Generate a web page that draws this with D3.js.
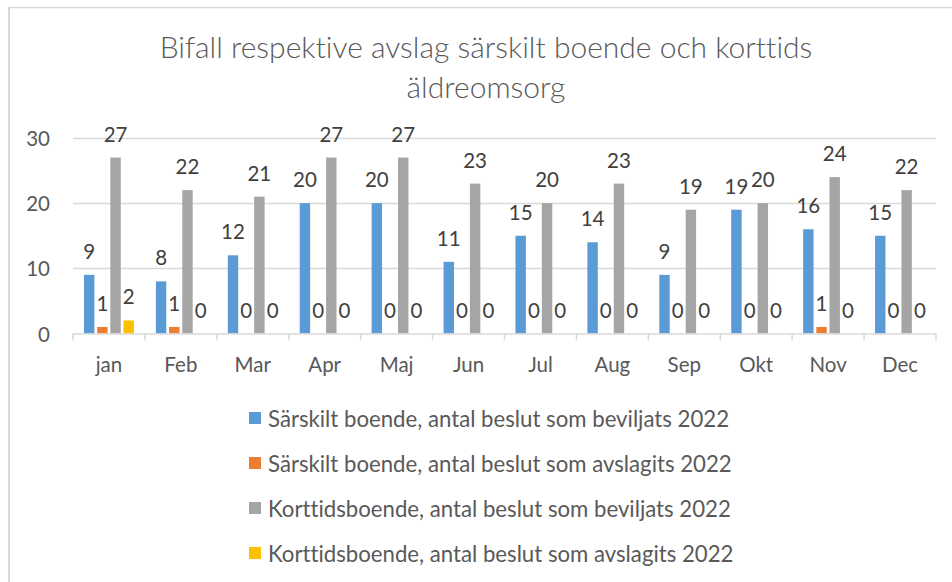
<!DOCTYPE html>
<html>
<head>
<meta charset="utf-8">
<script src="https://cdn.jsdelivr.net/npm/d3@7"></script>
<style>
  body { margin: 0; background: #fff; }
  text { font-family: Lato, "Open Sans", sans-serif; fill: #595959; font-variant-ligatures: none; }
</style>
</head>
<body>
<svg id="chart" width="952" height="582"></svg>
<script>
let months = ["jan", "Feb", "Mar", "Apr", "Maj", "Jun", "Jul", "Aug", "Sep", "Okt", "Nov", "Dec"];
let seriesNames = [
    "Särskilt boende, antal beslut som beviljats 2022",
    "Särskilt boende, antal beslut som avslagits 2022",
    "Korttidsboende, antal beslut som beviljats 2022",
    "Korttidsboende, antal beslut som avslagits 2022"
];
let sbBeviljats = [9, 8, 12, 20, 20, 11, 15, 14, 9, 19, 16, 15];
let sbAvslagits = [1, 1, 0, 0, 0, 0, 0, 0, 0, 0, 1, 0];
let ktBeviljats = [27, 22, 21, 27, 27, 23, 20, 23, 19, 20, 24, 22];
let ktAvslagits = [2, 0, 0, 0, 0, 0, 0, 0, 0, 0, 0, 0];
let yTicks = [0, 10, 20, 30];
let titleLines = ["Bifall respektive avslag särskilt boende och korttids", "äldreomsorg"];

let colors = ["#5b9bd5", "#ed7d31", "#a5a5a5", "#ffc000"];
let allSeries = [sbBeviljats, sbAvslagits, ktBeviljats, ktAvslagits];

let svg = d3.select("#chart");

// chart frame (only top and left edges are visible in the crop)
svg.append("line").attr("x1", 9).attr("x2", 952).attr("y1", 7.5).attr("y2", 7.5)
    .attr("stroke", "#d9d9d9").attr("stroke-width", 1.5);
svg.append("line").attr("x1", 9).attr("x2", 9).attr("y1", 7).attr("y2", 582)
    .attr("stroke", "#d9d9d9").attr("stroke-width", 2);

let plotLeft = 73, plotRight = 936, plotTop = 138, plotBottom = 333.5;

let x = d3.scaleBand().domain(months).range([plotLeft, plotRight])
    .paddingInner(0.305).paddingOuter(0.1525);
let xs = d3.scaleBand().domain(d3.range(allSeries.length)).range([0, x.bandwidth()])
    .paddingInner(0.21);
let y = d3.scaleLinear().domain([0, 30]).range([plotBottom, plotTop]);

// title
svg.append("g").selectAll("text").data(titleLines).join("text")
    .attr("x", 486)
    .attr("y", (d, i) => 58 + i * 40)
    .attr("text-anchor", "middle")
    .style("font-size", "30px")
    .style("font-weight", 300)
    .text(d => d);

// gridlines
svg.append("g").selectAll("line").data(yTicks.filter(t => t > 0)).join("line")
    .attr("x1", plotLeft).attr("x2", plotRight)
    .attr("y1", d => Math.round(y(d)) + 0.5).attr("y2", d => Math.round(y(d)) + 0.5)
    .attr("stroke", "#d9d9d9").attr("stroke-width", 1.5);

// y tick labels
svg.append("g").selectAll("text").data(yTicks).join("text")
    .attr("x", 50)
    .attr("y", d => y(d))
    .attr("text-anchor", "end")
    .attr("dominant-baseline", "central")
    .style("font-size", "20.5px")
    .text(d => d);

// bars
for (let s = 0; s < allSeries.length; s++) {
    svg.append("g").selectAll("rect").data(allSeries[s]).join("rect")
        .attr("x", (d, i) => x(months[i]) + xs(s))
        .attr("width", xs.bandwidth())
        .attr("y", d => y(d))
        .attr("height", d => y(0) - y(d))
        .attr("fill", colors[s]);
}

// x axis line and ticks
svg.append("line").attr("x1", plotLeft).attr("x2", plotRight)
    .attr("y1", plotBottom + 0.5).attr("y2", plotBottom + 0.5)
    .attr("stroke", "#d9d9d9").attr("stroke-width", 1.5);
svg.append("g").selectAll("line").data(d3.range(months.length + 1)).join("line")
    .attr("x1", i => plotLeft + i * x.step()).attr("x2", i => plotLeft + i * x.step())
    .attr("y1", plotBottom).attr("y2", plotBottom + 7)
    .attr("stroke", "#d9d9d9").attr("stroke-width", 1.5);

// month labels
svg.append("g").selectAll("text").data(months).join("text")
    .attr("x", d => x(d) + x.bandwidth() / 2)
    .attr("y", 372)
    .attr("text-anchor", "middle")
    .style("font-size", "20.5px")
    .text(d => d);

// data labels
for (let s = 0; s < allSeries.length; s++) {
    svg.append("g").selectAll("text").data(allSeries[s]).join("text")
        .attr("x", (d, i) => x(months[i]) + xs(s) + xs.bandwidth() / 2)
        .attr("y", d => y(d) - 16)
        .attr("text-anchor", "middle")
        .style("font-size", "20.5px")
        .style("fill", "#404040")
        .text(d => d);
}

// legend
let legend = svg.append("g").selectAll("g").data(seriesNames).join("g")
    .attr("transform", (d, i) => "translate(249," + (418 + i * 45) + ")");
legend.append("rect")
    .attr("x", 0).attr("y", -6).attr("width", 12).attr("height", 12)
    .attr("fill", (d, i) => colors[i]);
legend.append("text")
    .attr("x", 19).attr("y", 0)
    .attr("dominant-baseline", "central")
    .style("font-size", "22.2px")
    .text(d => d);
</script>
</body>
</html>
